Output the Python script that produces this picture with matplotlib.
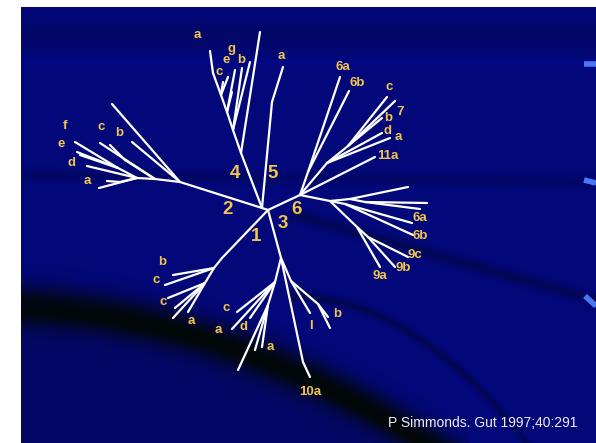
import matplotlib
matplotlib.use("Agg")
import matplotlib.pyplot as plt
import numpy as np

# unrooted tree: node name, position (slide units, y down) and parent node
nodes = ["A", "B",
         # genotype 2
         "r2", "m2", "i2", "ef2", "l2", "b2", "c2", "cc2", "ct2",
         "e2", "f2", "g2", "d2", "an2", "at2", "a2",
         # genotype 4
         "s1", "s2", "s3", "s4", "s5", "l4", "t4a", "t4b", "t4c", "t4d",
         "t4e", "t4f", "a4",
         # genotype 5
         "m5", "a5",
         # genotype 6 and relatives
         "n6", "u6", "t6a", "t6b", "m6", "mm6", "c6", "t7", "b6", "d6", "a6",
         "t11", "L1", "L2", "L3", "x6", "y6", "z6", "K6", "k6a", "k6b",
         "n9", "n9b", "t9a", "t9b", "t9c",
         # genotype 1
         "n1", "n1a", "n1b", "b1", "c1", "c1b", "e1", "f1", "a1",
         # genotype 3
         "n3", "s3L", "s3L2", "c3", "a3", "d3", "g3", "h3", "k3",
         "m10", "t10", "s3R", "l3", "s3b", "b3", "b3b"]
node_x = [262, 268,
          180, 155, 137, 118, 112, 132, 100, 125, 110,
          75, 77, 80, 87, 120, 107, 99,
          241, 233, 227, 221, 213, 260, 250, 242, 235, 232,
          228, 223, 210,
          272, 283,
          300, 308, 340, 349, 327, 348, 387, 395, 382, 382, 390,
          375, 330, 350, 365, 408, 427, 420, 345, 412, 413,
          357, 368, 380, 395, 408,
          222, 214, 205, 173, 165, 168, 175, 173, 188,
          281, 275, 268, 237, 232, 250, 262, 255, 238,
          303, 310, 291, 310, 318, 328, 330]
node_y = [208, 210,
          182, 179, 178, 168, 104, 142, 143, 160, 145,
          142, 152, 155, 166, 182, 181, 188,
          153, 130, 112, 95, 73, 32, 62, 68, 70, 92,
          77, 82, 51,
          102, 67,
          195, 172, 77, 91, 163, 146, 97, 101, 118, 133, 138,
          157, 201, 199, 202, 187, 203, 209, 204, 223, 235,
          227, 237, 267, 267, 257,
          258, 268, 283, 275, 285, 298, 308, 318, 312,
          258, 282, 305, 312, 329, 318, 347, 350, 370,
          362, 377, 281, 313, 304, 317, 328]
parents = [None, "A",
           "A", "r2", "m2", "i2", "r2", "r2", "m2", "m2", "cc2",
           "ef2", "ef2", "ef2", "i2", "i2", "an2", "i2",
           "A", "s1", "s2", "s3", "s4", "s1", "s2", "s2", "s3", "s3",
           "s4", "s4", "s5",
           "A", "m5",
           "B", "n6", "u6", "u6", "n6", "m6", "mm6", "mm6", "mm6", "m6", "m6",
           "n6", "n6", "L1", "L2", "L2", "L3", "L3", "L1", "K6", "K6",
           "L1", "n9", "n9", "n9b", "n9b",
           "B", "n1", "n1a", "n1a", "n1a", "n1b", "n1b", "n1b", "n1b",
           "B", "n3", "s3L", "s3L", "s3L", "s3L", "s3L2", "s3L2", "s3L2",
           "n3", "m10", "n3", "s3R", "s3R", "s3b", "s3b"]

# subtype labels at the tips
tip_text = ["f", "e", "d", "a", "c", "b",
            "a", "g", "e", "c", "b",
            "a",
            "6a", "6b", "c", "7", "b", "d", "a", "11a",
            "6a", "6b", "9c", "9b", "9a",
            "b", "c", "c", "a",
            "c", "a", "d", "a", "l", "b", "10a"]
tip_x = [65, 61, 72, 87, 101, 119,
         197, 231, 226, 219, 241,
         281,
         343, 357, 389, 400, 388, 388, 398, 388,
         420, 420, 415, 403, 380,
         162, 156, 163, 191,
         226, 218, 244, 270, 311, 337, 310]
tip_y = [126, 144, 163, 181, 127, 133,
         35, 49, 60, 72, 60,
         56,
         67, 83, 87, 112, 118, 131, 137, 156,
         218, 236, 255, 268, 276,
         262, 280, 302, 321,
         308, 330, 327, 347, 326, 314, 392]

# genotype numbers near the centre
geno_text = ["4", "5", "2", "6", "1", "3"]
geno_x = [235, 273, 228, 297, 256, 283]
geno_y = [174, 174, 209, 209, 236, 223]

fig = plt.figure(figsize=(5.96, 4.43), dpi=100, facecolor="white")
ax = fig.add_axes([0, 0, 1, 1])
ax.set_xlim(0, 596)
ax.set_ylim(443, 0)
ax.axis("off")

# slide background: navy with dark swooshes
yy, xx = np.mgrid[7:443, 21:596] + 0.5
blue = 0.48 + 0.04 * np.exp(-((yy - 62) / 5.0) ** 2) - 0.07 * np.exp(-((yy - 36) / 16.0) ** 2)


def swoosh(xs, ys, width, depth):
    c = np.polyfit(xs, ys, 2)
    yc = np.polyval(c, xx)
    inside = (xx >= min(xs) - 40) & (xx <= max(xs) + 40)
    return depth * np.exp(-((yy - yc) / width) ** 2) * inside


blue -= swoosh([21, 300, 596], [175, 178, 182], 6, 0.08)
blue -= swoosh([330, 460, 596], [225, 262, 300], 6, 0.14)
blue -= swoosh([21, 220, 430], [305, 342, 443], 20, 0.42)
blue -= 0.08 * ((yy > 310) & (yy > 305 + 138 * ((xx - 21) / 409.0) ** 2))
blue -= swoosh([330, 470, 527], [300, 380, 443], 5, 0.16)
blue = np.clip(blue, 0.04, 1)
img = np.zeros(blue.shape + (3,))
img[..., 0] = 0.01
img[..., 1] = 0.03
img[..., 2] = blue
ax.imshow(img, extent=(21, 596, 443, 7), aspect="auto", interpolation="bilinear", zorder=0)

# bright blue tips of the swooshes at the right edge
for (x0, y0, x1, y1) in [(584, 64, 596, 64), (584, 180, 596, 183), (585, 296, 596, 306)]:
    ax.plot([x0, x1], [y0, y1], color="#4a78f5", lw=4, solid_capstyle="butt", zorder=1)

pos = {n: (x, y) for n, x, y in zip(nodes, node_x, node_y)}
for n, p in zip(nodes, parents):
    if p is None:
        continue
    ax.plot([pos[p][0], pos[n][0]], [pos[p][1], pos[n][1]], color="white",
            lw=1.6, solid_capstyle="round", zorder=2)

gold = "#f2c44e"
for t, x, y in zip(tip_text, tip_x, tip_y):
    ax.text(x, y, t, color=gold, fontsize=9.5, fontweight="bold",
            family="Liberation Sans", ha="center", va="center", zorder=3)
for t, x, y in zip(geno_text, geno_x, geno_y):
    ax.text(x, y, t, color=gold, fontsize=13.5, fontweight="bold",
            family="Liberation Sans", ha="center", va="center", zorder=3)

ax.text(388, 423, "P Simmonds. Gut 1997;40:291", color="#eeeef4", fontsize=10,
        family="Liberation Sans", ha="left", va="center", zorder=3)

fig.savefig("out.png", dpi=100, facecolor="white")
